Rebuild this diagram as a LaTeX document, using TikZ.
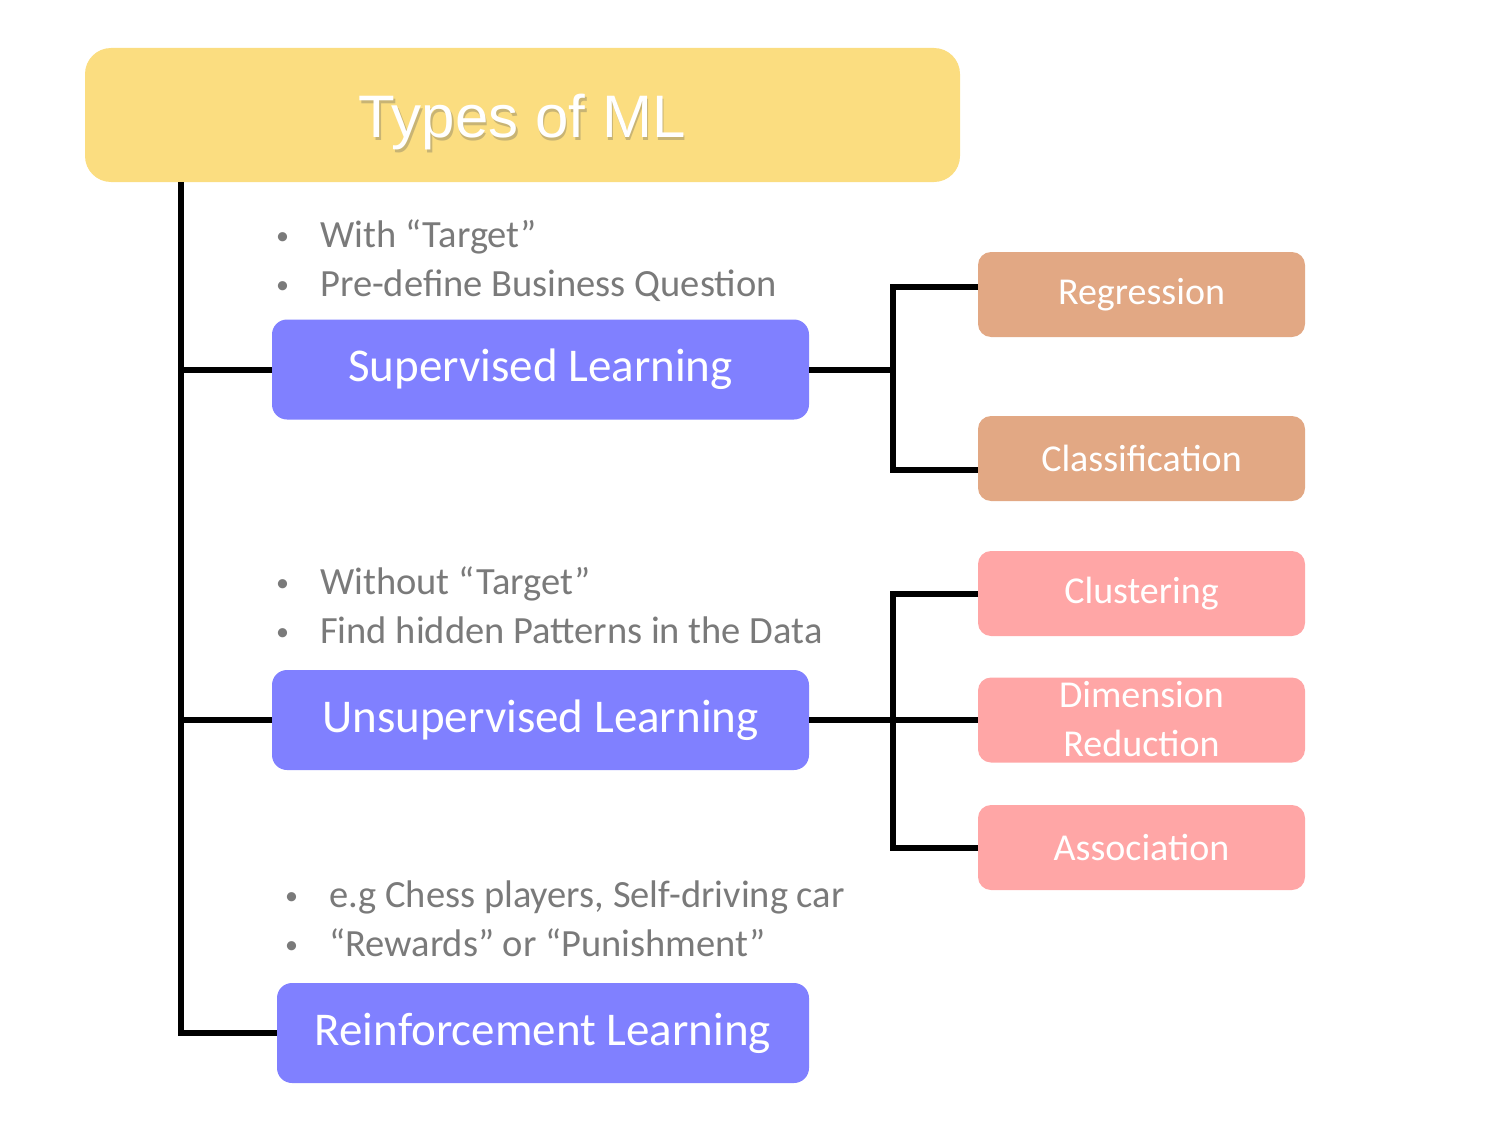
\documentclass[tikz,border=0pt]{standalone}
\usepackage{fontspec}
\setmainfont{Carlito}
\newfontfamily\titlefont{Liberation Sans}
\definecolor{titleyellow}{RGB}{251,221,128}
\definecolor{titleshade}{RGB}{200,180,116}
\definecolor{learnblue}{RGB}{128,128,255}
\definecolor{suporange}{RGB}{226,168,132}
\definecolor{unsuppink}{RGB}{255,166,166}
\definecolor{notegray}{RGB}{122,122,122}
\newcommand{\bulitem}[1]{\makebox[46pt][l]{\hspace{2pt}\raisebox{3pt}{\fontsize{26}{26}\selectfont\textbullet}}#1}
\newcommand{\shadowtext}[1]{\makebox[0pt][l]{\hspace{1.5pt}\raisebox{-3pt}{\textcolor{titleshade}{#1}}}#1}
\begin{document}
\begin{tikzpicture}[x=1pt,y=-1pt,
  learnbox/.style={fill=learnblue, rounded corners=15pt, minimum width=537pt, minimum height=100pt, inner sep=0pt, text=white, font=\fontsize{47}{49}\selectfont},
  subbox/.style={rounded corners=13pt, minimum width=327pt, minimum height=85pt, inner sep=0pt, text=white, font=\fontsize{38}{49}\selectfont, align=center},
  supsub/.style={subbox, fill=suporange},
  unssub/.style={subbox, fill=unsuppink},
  note/.style={anchor=base west, inner sep=0pt, text=notegray, font=\fontsize{38.5}{40}\selectfont},
  conn/.style={draw=black, line width=6pt}]
\useasboundingbox (0,0) rectangle (1489,1140);

% title
\node[fill=titleyellow, rounded corners=26pt, minimum width=875pt, minimum height=134pt, inner sep=0pt] (title) at (522.5,115) {};
\node[anchor=base, inner sep=0pt, text=white, font=\titlefont\fontsize{60}{60}\selectfont] (titletext) at (522,137) {\shadowtext{Types of ML}};

% main categories
\node[learnbox] (sup) at (540.5,369.5) {Supervised Learning};
\node[learnbox] (uns) at (540.5,720) {Unsupervised Learning};
\node[learnbox, minimum width=532pt] (rl) at (543,1033) {Reinforcement Learning};

% notes
\node[note] (n1) at (274,247) {\bulitem{With “Target”}};
\node[note] (n2) at (274,296) {\bulitem{Pre-define Business Question}};
\node[note] (n3) at (274,594) {\bulitem{Without “Target”}};
\node[note] (n4) at (274,643) {\bulitem{Find hidden Patterns in the Data}};
\node[note] (n5) at (283,907) {\bulitem{e.g Chess players, Self-driving car}};
\node[note] (n6) at (283,956) {\bulitem{“Rewards” or “Punishment”}};

% sub categories
\node[supsub] (reg) at (1141.5,294.5) {Regression};
\node[supsub] (cls) at (1141.5,458.5) {Classification};
\node[unssub] (clu) at (1141.5,593.5) {Clustering};
\node[unssub] (dim) at (1141.5,720) {\raisebox{1.5pt}{Dimension}\\\raisebox{1.5pt}{Reduction}};
\node[unssub] (ass) at (1141.5,847.5) {Association};

% trunk
\coordinate (top) at (181,182);
\draw[conn] (top) |- (rl.west);
\draw[conn] (top |- sup.west) -- (sup.west);
\draw[conn] (top |- uns.west) -- (uns.west);

% supervised branch
\coordinate (jS) at (893,369.5);
\draw[conn] (sup.east) -- (jS);
\draw[conn] ([yshift=7.5pt]reg.west) -| (jS) |- ([yshift=-11.5pt]cls.west);

% unsupervised branch
\coordinate (jU) at (893,720);
\draw[conn] (uns.east) -- (dim.west);
\draw[conn] (clu.west) -| (jU |- ass.west) -- (ass.west);
\end{tikzpicture}
\end{document}
